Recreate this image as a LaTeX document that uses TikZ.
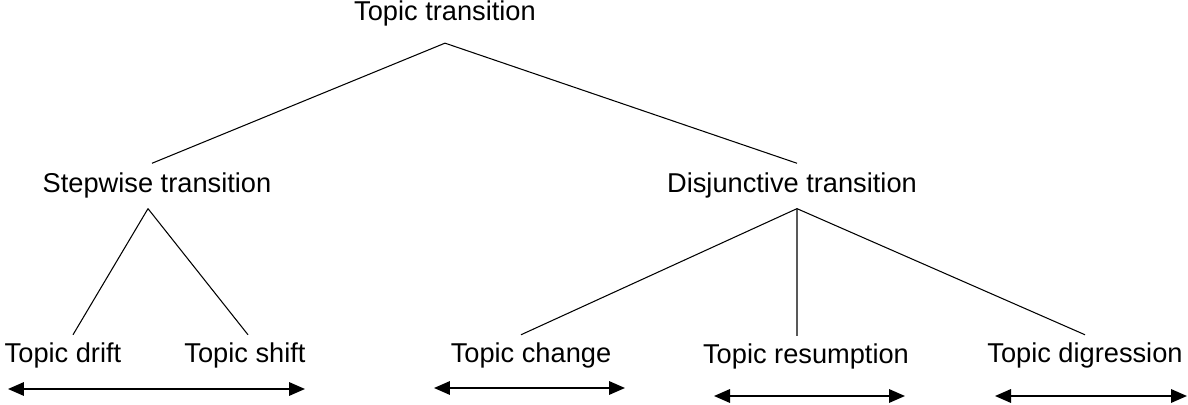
\documentclass[tikz,border=0pt]{standalone}
\usepackage{fontspec}
\setmainfont{Liberation Sans}
\usetikzlibrary{arrows.meta}

\tikzset{
  lbl/.style={inner sep=0pt, anchor=base, font=\fontsize{15.5}{18}\selectfont},
  toplbl/.style={lbl, outer ysep=0.33cm},
  midlbl/.style={lbl, outer ysep=0.2cm},
  leaflbl/.style={lbl, outer ysep=0.17cm},
  branch/.style={line width=0.6pt},
  spanarrow/.style={line width=1pt,
    {Triangle[length=0.32cm,width=0.27cm]}-{Triangle[length=0.32cm,width=0.27cm]}}
}

\begin{document}
\begin{tikzpicture}[x=0.02cm, y=-0.02cm]
    \useasboundingbox (0,0) rectangle (1188,405);
    % tree labels
    \node[toplbl] (top) at (445,21) {Topic transition};
    \node[midlbl] (step) at (157,193) {Stepwise transition};
    \node[midlbl] (disj) at (792,193) {Disjunctive transition};
    \node[leaflbl] (drift) at (63,363) {Topic drift};
    \node[leaflbl] (shift) at (245,363) {Topic shift};
    \node[leaflbl] (change) at (531,363) {Topic change};
    \node[leaflbl] (resump) at (806,364) {Topic resumption};
    \node[leaflbl] (digr) at (1085,363) {Topic digression};
    % branches
    \draw[branch] (top.south) -- ([xshift=-0.1cm]step.north);
    \draw[branch] (top.south) -- ([xshift=0.1cm]disj.north);
    \draw[branch] ([xshift=-0.18cm]step.south) -- ([xshift=0.2cm]drift.north);
    \draw[branch] ([xshift=-0.18cm]step.south) -- ([xshift=0.06cm]shift.north);
    \draw[branch] ([xshift=0.1cm]disj.south) -- ([xshift=-0.2cm]change.north);
    \draw[branch] ([xshift=0.1cm]disj.south) -- ([xshift=-0.18cm]resump.north);
    \draw[branch] ([xshift=0.1cm]disj.south) -- (digr.north);
    % double arrows below the labels
    \coordinate (r1a) at (8,389);
    \coordinate (r1b) at (305,389);
    \coordinate (r2a) at (434,388);
    \coordinate (r2b) at (625,388);
    \coordinate (r3a) at (714,396);
    \coordinate (r3b) at (905,396);
    \coordinate (r4a) at (995,396);
    \coordinate (r4b) at (1187,396);
    \draw[spanarrow] (r1a) -- (r1b);
    \draw[spanarrow] (r2a) -- (r2b);
    \draw[spanarrow] (r3a) -- (r3b);
    \draw[spanarrow] (r4a) -- (r4b);
\end{tikzpicture}
\end{document}
